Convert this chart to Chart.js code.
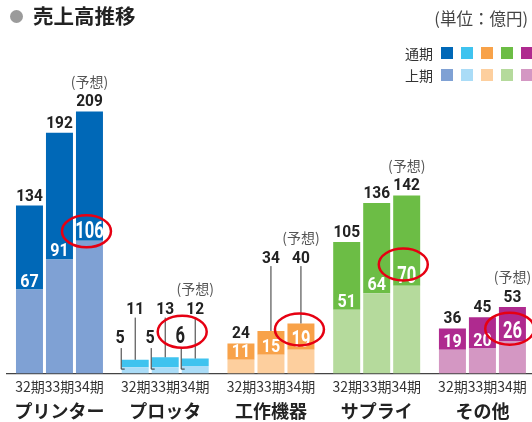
<!DOCTYPE html>
<html lang="ja">
<head>
<meta charset="utf-8">
<title>売上高推移</title>
<script src="https://cdn.jsdelivr.net/npm/chart.js@4.4.1/dist/chart.umd.min.js"></script>
<style>
    body {
        margin: 0;
        width: 532px;
        height: 422px;
        overflow: hidden;
        background: #ffffff;
        position: relative;
        font-family: 'Noto Sans CJK JP', sans-serif;
    }
    #chartWrap {
        position: absolute;
        left: 0;
        top: 0;
        width: 540px;
        height: 422px;
    }
    .title-dot {
        position: absolute;
        left: 10px;
        top: 10px;
        width: 13px;
        height: 13px;
        border-radius: 50%;
        background: #9b9b9b;
    }
    .title {
        position: absolute;
        left: 33px;
        top: 2px;
        font-size: 20.5px;
        line-height: 26px;
        font-weight: bold;
        color: #222;
    }
    .unit {
        position: absolute;
        right: 4px;
        top: 8px;
        font-size: 16.5px;
        line-height: 20px;
        color: #444;
    }
    .legend-row {
        position: absolute;
        left: 405px;
        height: 16px;
        font-size: 14px;
        line-height: 16px;
        color: #333;
    }
    .legend-box {
        position: absolute;
        width: 12px;
        height: 12px;
        top: 2px;
    }
</style>
</head>
<body>
<div id="chartWrap"><canvas id="salesChart" width="540" height="422"></canvas></div>
<div class="title-dot"></div>
<div class="title">売上高推移</div>
<div class="unit">(単位：億円)</div>
<div id="legend"></div>

<script>
// categories and periods
const categories = ['プリンター', 'プロッタ', '工作機器', 'サプライ', 'その他'];
const periods = ['32期', '33期', '34期'];
const legendLabels = ['通期', '上期'];
const forecastLabel = '(予想)';

// 通期 (full year) per period
const fullYear32 = [134, 11, 24, 105, 36];
const fullYear33 = [192, 13, 34, 136, 45];
const fullYear34 = [209, 12, 40, 142, 53];

// 上期 (first half) per period
const firstHalf32 = [67, 5, 11, 51, 19];
const firstHalf33 = [91, 5, 15, 64, 20];
const firstHalf34 = [106, 6, 19, 70, 26];

const fullYear = [fullYear32, fullYear33, fullYear34];
const firstHalf = [firstHalf32, firstHalf33, firstHalf34];

// colours per category
const darkColors = ['#0068b7', '#3fc3ef', '#f8a249', '#6cbd45', '#af2a8f'];
const lightColors = ['#7fa1d4', '#aadcf7', '#fdcf9e', '#b5da9c', '#d497c3'];

const numFamily = "Roboto, 'DejaVu Sans', sans-serif";
const jpFamily = "'Noto Sans CJK JP', sans-serif";
const textColor = '#222222';

function buildLegend() {
    const legend = document.getElementById('legend');
    legendLabels.forEach((label, row) => {
        const div = document.createElement('div');
        div.className = 'legend-row';
        div.style.top = (45 + row * 22) + 'px';
        div.textContent = label;
        const colors = row === 0 ? darkColors : lightColors;
        colors.forEach((c, i) => {
            const box = document.createElement('span');
            box.className = 'legend-box';
            box.style.left = (36 + i * 20) + 'px';
            box.style.background = c;
            div.appendChild(box);
        });
        legend.appendChild(div);
    });
}

function drawNum(ctx, text, x, y, size, color, sx) {
    ctx.save();
    ctx.translate(x, y);
    ctx.scale(sx, 1);
    ctx.font = `bold ${size}px ${numFamily}`;
    ctx.fillStyle = color;
    ctx.textAlign = 'center';
    ctx.textBaseline = 'alphabetic';
    ctx.fillText(text, 0, 0);
    ctx.restore();
}

function line(ctx, pts) {
    ctx.save();
    ctx.strokeStyle = '#333';
    ctx.lineWidth = 1;
    ctx.beginPath();
    pts.forEach((p, i) => i ? ctx.lineTo(p[0], p[1]) : ctx.moveTo(p[0], p[1]));
    ctx.stroke();
    ctx.restore();
}

// small values are labelled outside the bar with leader lines
const plotterIndex = 1;
const machineIndex = 2;
const highlightPeriod = 2;
const ellipseOffsets = [[-3, 2], [2, -2.5], [-1.5, -9], [-3.4, -10], [-2.7, -1]];

const valueLabelPlugin = {
    id: 'valueLabels',
    afterDatasetsDraw(chart) {
        const ctx = chart.ctx;
        const base = chart.scales.y.getPixelForValue(0);
        const ellipses = [];

        periods.forEach((p, pi) => {
            const lowerMeta = chart.getDatasetMeta(pi * 2);
            const upperMeta = chart.getDatasetMeta(pi * 2 + 1);

            categories.forEach((c, ci) => {
                const top = upperMeta.data[ci];
                const half = lowerMeta.data[ci];
                const x = top.x;
                const left = x - top.width / 2;
                const circled = pi === highlightPeriod;
                let fullBase = top.y - 5;

                // full-year value
                if (ci === plotterIndex) {
                    fullBase = base - 59.5;
                    line(ctx, [[x, fullBase + 3.5], [x, top.y]]);
                } else if (ci === machineIndex && pi > 0) {
                    fullBase = base - 111;
                    line(ctx, [[x, fullBase + 3.5], [x, top.y]]);
                }
                drawNum(ctx, String(fullYear[pi][ci]), x, fullBase, 17, textColor, 0.91);

                if (circled) {
                    ctx.save();
                    ctx.font = `14px ${jpFamily}`;
                    ctx.fillStyle = '#555';
                    ctx.textAlign = 'center';
                    ctx.textBaseline = 'middle';
                    ctx.fillText(forecastLabel, x, fullBase - 12 - 13);
                    ctx.restore();
                }

                // first-half value
                const size = circled ? 23 : 17.5;
                const sx = circled ? 0.72 : 0.92;
                let halfBase;
                let hx = x;
                let color = '#ffffff';
                if (ci === plotterIndex) {
                    hx = left - 1.5;
                    halfBase = base - 31;
                    color = textColor;
                    line(ctx, [[left - 0.5, base - 25.5], [left - 0.5, base - 4.5], [left + 3, base - 4.5]]);
                } else {
                    halfBase = half.y - 3;
                }
                drawNum(ctx, String(firstHalf[pi][ci]), hx, halfBase, size, color, sx);

                if (circled) {
                    const off = ellipseOffsets[ci];
                    ellipses.push([hx + off[0], halfBase - size * 0.36 + off[1]]);
                }
            });
        });

        ctx.save();
        ctx.strokeStyle = '#e60012';
        ctx.lineWidth = 2.5;
        ellipses.forEach(([ex, ey]) => {
            ctx.beginPath();
            ctx.ellipse(ex, ey, 24.5, 16, 0, 0, Math.PI * 2);
            ctx.stroke();
        });
        ctx.restore();
    }
};

function buildDatasets() {
    return periods.map((p, i) => [
        {
            label: p + ' 上期',
            data: firstHalf[i],
            backgroundColor: lightColors,
            stack: p
        },
        {
            label: p + ' 下期',
            data: fullYear[i].map((v, k) => v - firstHalf[i][k]),
            backgroundColor: darkColors,
            stack: p
        }
    ]).flat();
}

document.addEventListener('DOMContentLoaded', () => {
    buildLegend();

    const ctx = document.getElementById('salesChart');
    new Chart(ctx, {
        type: 'bar',
        data: {
            labels: categories,
            datasets: buildDatasets()
        },
        options: {
            responsive: false,
            animation: false,
            devicePixelRatio: 1,
            barPercentage: 0.9,
            categoryPercentage: 0.851,
            layout: {
                padding: { top: 60, left: 6.6, right: 4.7, bottom: 0 }
            },
            plugins: {
                legend: { display: false },
                tooltip: { enabled: false }
            },
            scales: {
                x: {
                    stacked: true,
                    grid: { display: false, drawTicks: false },
                    border: { display: true, color: '#444', width: 1.2 },
                    ticks: {
                        padding: 5,
                        color: '#333',
                        font: { family: jpFamily, size: 14 },
                        callback: () => periods.join('')
                    }
                },
                x2: {
                    type: 'category',
                    labels: categories,
                    position: 'bottom',
                    offset: true,
                    grid: { display: false, drawTicks: false },
                    border: { display: false },
                    ticks: {
                        padding: 0,
                        color: textColor,
                        font: { family: jpFamily, size: 18, weight: 'bold' }
                    }
                },
                y: {
                    stacked: true,
                    display: false,
                    min: 0,
                    max: 250
                }
            }
        },
        plugins: [valueLabelPlugin]
    });
});
</script>
</body>
</html>
